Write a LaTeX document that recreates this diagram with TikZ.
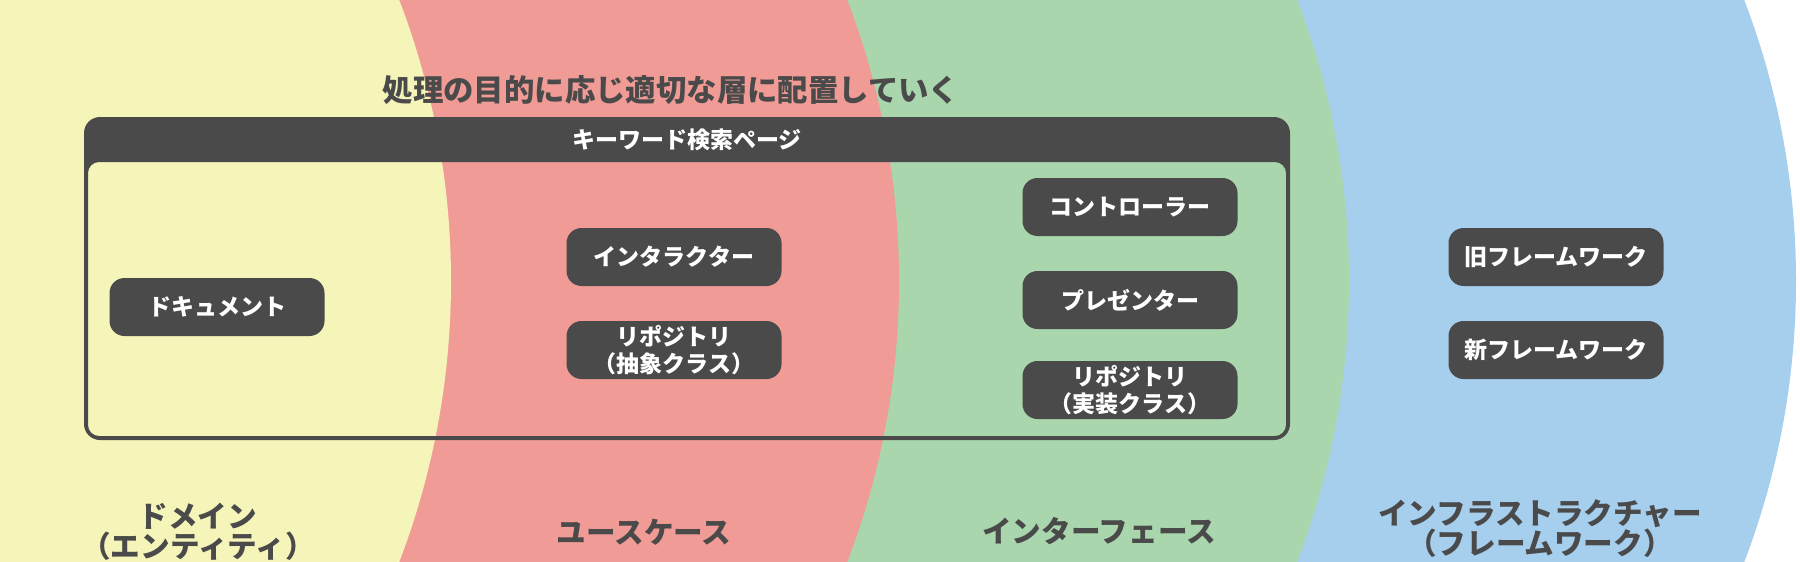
\documentclass[tikz,border=0pt]{standalone}
\usepackage{fontspec}
\newfontfamily\jp{Noto Sans CJK JP}
\definecolor{cy}{HTML}{F5F5BA}
\definecolor{cr}{HTML}{F19B96}
\definecolor{cg}{HTML}{A9D6AC}
\definecolor{cb}{HTML}{A6CFEE}
\definecolor{dk}{HTML}{4A4A4A}
\begin{document}
\begin{tikzpicture}[x=1pt,y=-1pt,
  box/.style={fill=dk, rounded corners=15pt, minimum width=215pt, minimum height=58pt,
    text=white, font=\jp\bfseries\fontsize{23}{27}\selectfont, align=center, inner sep=0pt},
  layerlabel/.style={text=dk, font=\jp\bfseries\fontsize{29.6}{30}\selectfont, align=center, inner sep=0pt},
  titletext/.style={text=dk, font=\jp\bfseries\fontsize{30.4}{34}\selectfont, inner sep=0pt},
  headertext/.style={text=white, font=\jp\bfseries\fontsize{23}{26}\selectfont, inner sep=0pt}]
\useasboundingbox (0,0) rectangle (1800,562);
\begin{scope}
  \clip (0,0) rectangle (1800,562);
  \fill[white] (0,0) rectangle (1800,562);
  \fill[cb] (1011,281) circle[radius=785];
  \fill[cg] (564,281) circle[radius=785];
  \fill[cr] (114,281) circle[radius=785];
  \fill[cy] (-334,281) circle[radius=785];
\end{scope}
% title
\node[titletext] (title) at (671,90) {処理の目的に応じ適切な層に配置していく};
% frame with header band
\fill[dk, even odd rule]
  [rounded corners=16pt] (84,117) rectangle (1290,440)
  [rounded corners=11pt] (88,162) rectangle (1286,436);
\node[headertext] (header) at (687,140) {キーワード検索ページ};
% boxes
\node[box] (doc) at (217,307) {ドキュメント};
\node[box] (inter) at (674,257) {インタラクター};
\node[box] (repoa) at (674,350) {リポジトリ\\（抽象クラス）};
\node[box] (ctrl) at (1130,207) {コントローラー};
\node[box] (pres) at (1130,300) {プレゼンター};
\node[box] (repoi) at (1130,390) {リポジトリ\\（実装クラス）};
\node[box] (oldfw) at (1556,257) {旧フレームワーク};
\node[box] (newfw) at (1556,350) {新フレームワーク};
% layer labels
\node[layerlabel] (ldom) at (198,532) {ドメイン\\（エンティティ）};
\node[layerlabel] (luc) at (644,532) {ユースケース};
\node[layerlabel] (lif) at (1099,531) {インターフェース};
\node[layerlabel] (linf) at (1540,529) {インフラストラクチャー\\（フレームワーク）};
\end{tikzpicture}
\end{document}
